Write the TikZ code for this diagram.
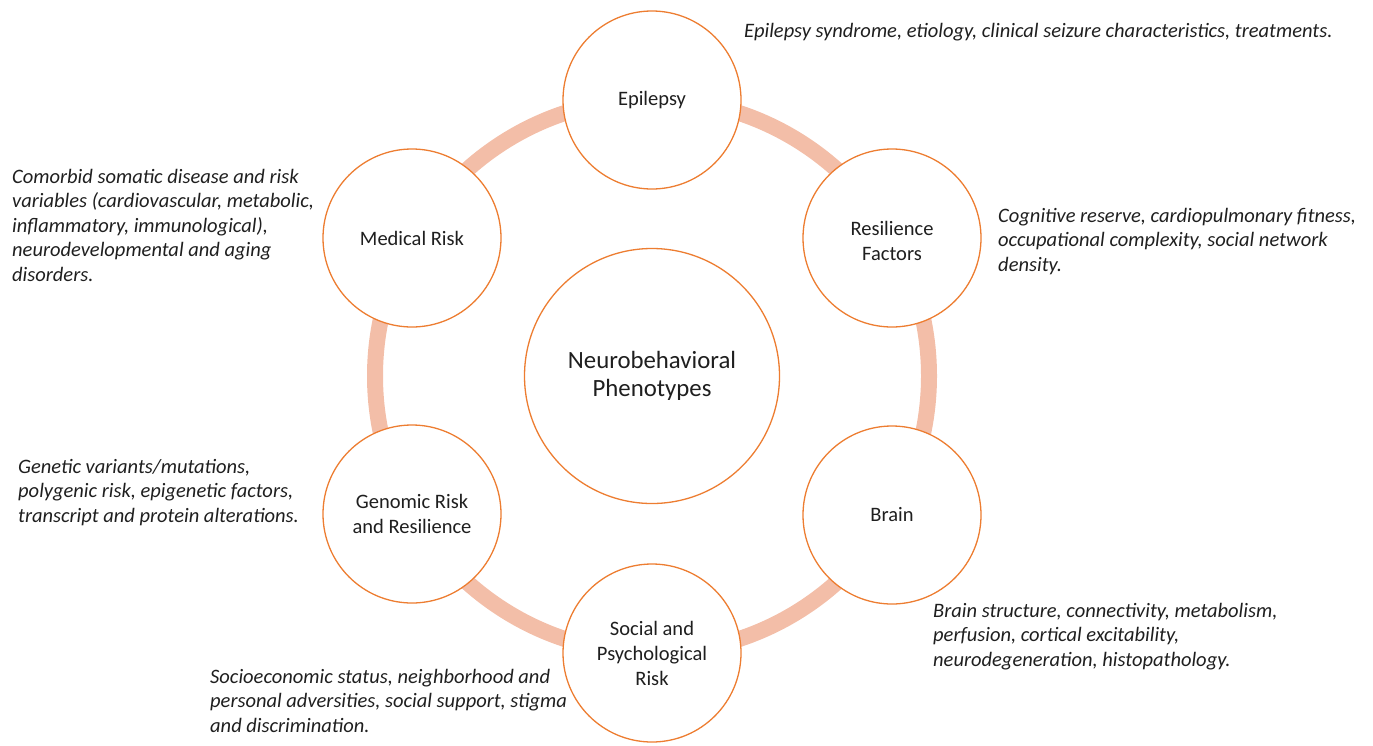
\documentclass[tikz,border=0pt]{standalone}
\usepackage{fontspec}
\setmainfont{Carlito}
\definecolor{ringfill}{HTML}{F3BEA8}
\definecolor{rim}{HTML}{ED7D31}
\definecolor{ink}{HTML}{1F1F1F}

\begin{document}
\begin{tikzpicture}[x=1pt,y=-1pt,
  factor/.style={circle, draw=rim, line width=1.3pt, fill=white,
    minimum size=178pt, inner sep=0pt, align=center, text=ink,
    font=\fontsize{20.5}{25}\selectfont},
  core/.style={factor, minimum size=255pt, font=\fontsize{24.8}{28}\selectfont},
  % notes are anchored at the baseline of their last line
  note/.style={anchor=base west, align=left, inner sep=0pt, text=ink,
    font=\fontsize{20.5}{24.5}\selectfont\itshape}]
\useasboundingbox (0,0) rectangle (1373,745);

% the ring linking the six factors
\coordinate (hub) at (652,376);
\draw[ringfill, line width=16pt] (hub) circle[radius=277];

% central phenotype and surrounding factors
\node[core] (nb) at (hub) {Neurobehavioral\\Phenotypes};
\node[factor] (ep) at (652,100) {Epilepsy};
\node[factor] (rf) at (892,238) {\raisebox{-10.5pt}[0pt][0pt]{\begin{tabular}{@{}c@{}}Resilience\\Factors\end{tabular}}};
\node[factor] (br) at (892,515) {Brain};
\node[factor] (sp) at (652,653) {Social and\\Psychological\\Risk};
\node[factor] (gr) at (412,514) {Genomic Risk\\and Resilience};
\node[factor] (mr) at (412,238) {Medical Risk};

% descriptions of each factor
\node[note] (epn) at (744,37) {Epilepsy syndrome, etiology, clinical seizure characteristics, treatments.};
\node[note] (rfn) at (998,271) {Cognitive reserve, cardiopulmonary fitness,\\occupational complexity, social network\\density.};
\node[note] (brn) at (933,666) {Brain structure, connectivity, metabolism,\\perfusion, cortical excitability,\\neurodegeneration, histopathology.};
\node[note] (spn) at (210,732) {Socioeconomic status, neighborhood and\\personal adversities, social support, stigma\\and discrimination.};
\node[note] (grn) at (18,522) {Genetic variants/mutations,\\polygenic risk, epigenetic factors,\\transcript and protein alterations.};
\node[note] (mrn) at (12,281) {Comorbid somatic disease and risk\\variables (cardiovascular, metabolic,\\inflammatory, immunological),\\neurodevelopmental and aging\\disorders.};
\end{tikzpicture}
\end{document}
